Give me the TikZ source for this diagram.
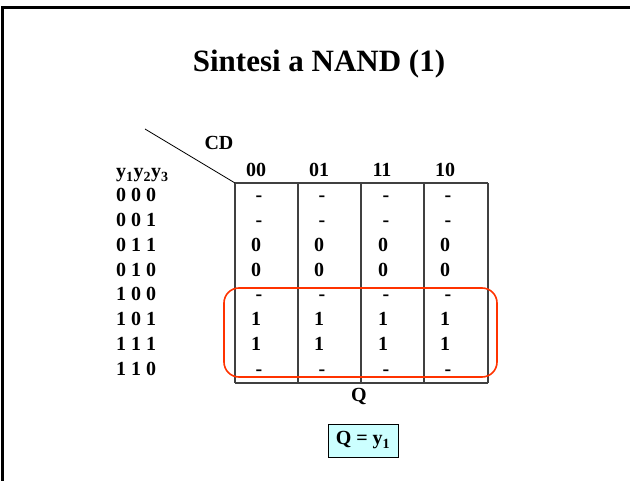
\documentclass[tikz,border=0pt]{standalone}
\usepackage{fontspec}
\setmainfont{Liberation Serif}
\begin{document}
\begin{tikzpicture}[x=1pt,y=-1pt,
  txt/.style={inner sep=0pt,anchor=base,font=\fontsize{20}{20}\selectfont\bfseries},
  lbl/.style={txt,anchor=base west},
  gridline/.style={draw={rgb,255:red,64;green,64;blue,64},line width=1.2pt},
  loop/.style={draw={rgb,255:red,255;green,51;blue,0},line width=1.6pt,rounded corners=15pt},
  resbox/.style={draw=black,line width=0.9pt,fill={rgb,255:red,204;green,255;blue,255},inner sep=0pt,minimum width=70pt,minimum height=33pt,font=\fontsize{20}{20}\selectfont\bfseries}
]
\useasboundingbox (0,0) rectangle (630,481);
% frame
\draw[line width=3pt] (2.5,481) -- (2.5,7.5) -- (630,7.5);
% title
\node[inner sep=0pt,anchor=base,font=\fontsize{31}{31}\selectfont\bfseries] (title) at (319,72) {Sintesi a NAND (1)};
% grid
\coordinate (gtl) at (235,183);
\coordinate (gbr) at (488,383);
\coordinate (dstart) at (145,129);
\draw[gridline] (gtl) -- (488,183);
\draw[gridline] (235,383) -- (gbr);
\foreach \x/\n in {235/a,298/b,361/c,424/d,488/e} \draw[gridline] (\x,183) -- (\x,383);
\draw[line width=0.8pt] (dstart) -- (gtl);
% labels
\node[txt] (cd) at (219,150) {CD};
\node[lbl] (yvars) at (116,178) {y\textsubscript{1}y\textsubscript{2}y\textsubscript{3}};
\foreach \t/\c [count=\i] in {00/256,01/319,11/382,10/445}
  \node[txt] (h\i) at (\c,177) {\t};
\foreach \r/\b [count=\i] in {0 0 0/202,0 0 1/227,0 1 1/252,0 1 0/277,1 0 0/301,1 0 1/326,1 1 1/351,1 1 0/376}
  \node[lbl] (r\i) at (116,\b) {\r};
% cells
\foreach \c [count=\j] in {256,319,383,445}{
  \node[txt] (c1\j) at (\c+3,202) {-};
  \node[txt] (c2\j) at (\c+3,227) {-};
  \node[txt] (c3\j) at (\c,252) {0};
  \node[txt] (c4\j) at (\c,277) {0};
  \node[txt] (c5\j) at (\c+3,301) {-};
  \node[txt] (c6\j) at (\c,326) {1};
  \node[txt] (c7\j) at (\c,351) {1};
  \node[txt] (c8\j) at (\c+3,376) {-};
}
% loop
\draw[loop] (224,288) rectangle (497,377);
% Q
\node[txt] (q) at (359,402) {Q};
\node[resbox] (res) at (363,440.5) {Q = y\textsubscript{1}};
\end{tikzpicture}
\end{document}
